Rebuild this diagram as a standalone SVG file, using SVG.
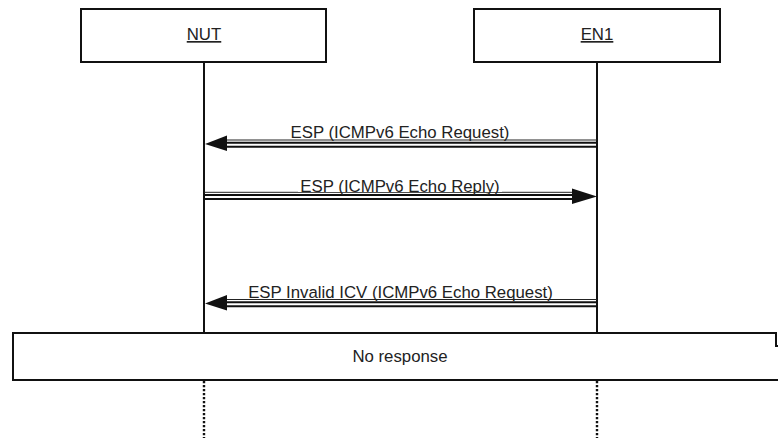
<svg xmlns="http://www.w3.org/2000/svg" width="778" height="438" viewBox="0 0 778 438">
<style>
.box{fill:#fff;stroke:#111;stroke-width:2}
.t{font-family:"Liberation Sans",Arial,sans-serif;font-size:16.8px;fill:#222;text-anchor:middle}
.u{text-decoration:underline}
.life{stroke:#111;stroke-width:2;fill:none}
.dot{stroke:#111;stroke-width:2.4;stroke-dasharray:2.2 1.8;fill:none}
.thin{stroke:#222;stroke-width:1;fill:none}
.dbl{stroke:#111;stroke-width:2;fill:none}
.head{fill:#111}
</style>
<rect width="778" height="438" fill="#fff"/>
<g id="lifelines">
<line class="life" x1="204" y1="62" x2="204" y2="333"/>
<line class="life" x1="597" y1="62" x2="597" y2="333"/>
<line class="dot" x1="204" y1="381" x2="204" y2="438"/>
<line class="dot" x1="597" y1="381" x2="597" y2="438"/>
</g>
<g id="NUT">
<rect class="box" x="81" y="9" width="245" height="53"/>
<text class="t u" x="204" y="40">NUT</text>
</g>
<g id="EN1">
<rect class="box" x="474" y="9" width="246" height="53"/>
<text class="t u" x="597" y="40">EN1</text>
</g>
<g id="connectors">
<g id="msg1">
<line class="thin" x1="227" y1="140" x2="597" y2="140"/>
<line class="dbl" x1="222" y1="142.7" x2="597" y2="142.7"/>
<line class="dbl" x1="222" y1="146.7" x2="597" y2="146.7"/>
<polygon class="head" points="205,144 227,135.5 227,151"/>
<rect x="289" y="124" width="222" height="15" fill="#fff"/>
<text class="t" x="400" y="138">ESP (ICMPv6 Echo Request)</text>
</g>
<g id="msg2">
<line class="thin" x1="204" y1="192.3" x2="574" y2="192.3"/>
<line class="dbl" x1="204" y1="195" x2="580" y2="195"/>
<line class="dbl" x1="204" y1="199" x2="580" y2="199"/>
<polygon class="head" points="597,196.5 572,188.5 572,204"/>
<rect x="298" y="178" width="204" height="14" fill="#fff"/>
<text class="t" x="400" y="191.5">ESP (ICMPv6 Echo Reply)</text>
</g>
<g id="msg3">
<line class="thin" x1="227" y1="299.5" x2="597" y2="299.5"/>
<line class="dbl" x1="222" y1="302.2" x2="597" y2="302.2"/>
<line class="dbl" x1="222" y1="306.2" x2="597" y2="306.2"/>
<polygon class="head" points="205,303.5 227,295 227,310.5"/>
<rect x="246" y="284" width="309" height="15" fill="#fff"/>
<text class="t" x="400.5" y="298">ESP Invalid ICV (ICMPv6 Echo Request)</text>
</g>
</g>
<g id="noresponse">
<path d="M790,346 H776 V333 H13 V380 H790" fill="#fff" stroke="#111" stroke-width="2"/>
<text class="t" x="400" y="362">No response</text>
</g>
</svg>
